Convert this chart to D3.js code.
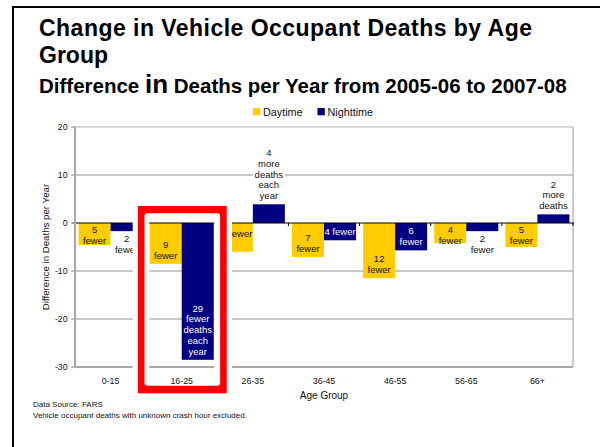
<!DOCTYPE html>
<html><head><meta charset="utf-8">
<script src="https://cdn.jsdelivr.net/npm/d3@7"></script>
<style>
html,body{margin:0;padding:0;background:#fff;}
svg{display:block;font-family:Arial,"Liberation Sans",sans-serif;}
</style></head>
<body>
<svg id="chart" width="600" height="447"></svg>
<script>
// ---- data ----
const categories = ["0-15","16-25","26-35","36-45","46-55","56-65","66+"];
const seriesNames = ["Daytime","Nighttime"];
const daytime   = [-4.6, -8.5, -6.0, -7.1, -11.5, -4.2, -5.0];
const nighttime = [-1.7, -28.5, 3.9, -3.6, -5.7, -1.7, 1.8];
const dayLabels   = ["5\nfewer","9\nfewer","6 fewer","7\nfewer","12\nfewer","4\nfewer","5\nfewer"];
const nightLabels = ["2\nfewer","29\nfewer\ndeaths\neach\nyear","4\nmore\ndeaths\neach\nyear","4 fewer","6\nfewer","2\nfewer","2\nmore\ndeaths"];
const dayPlacement   = ["end","end","base","end","end","end","end"];
const nightPlacement = ["out","end","out","end","end","out","out"];
const yTicks = [20,10,0,-10,-20,-30];
const highlighted = "16-25";
const titleText = ["Change in Vehicle Occupant Deaths by Age","Group"];
const subtitleParts = ["Difference ","in"," Deaths per Year from 2005-06 to 2007-08"];
const yAxisTitle = "Difference in Deaths per Year";
const xAxisTitle = "Age Group";
const notes = ["Data Source: FARS","Vehicle occupant deaths with unknown crash hour excluded."];

// ---- setup ----
const colors = {Daytime:"#FFCC00", Nighttime:"#000080"};
const svg = d3.select("#chart");
const L = 75, R = 573, T = 127, B = 367;
const x0 = d3.scaleBand().domain(categories).range([L,R]).paddingInner(0.1).paddingOuter(0.05);
const x1 = d3.scaleBand().domain(seriesNames).range([0,x0.bandwidth()]);
const y = d3.scaleLinear().domain([-30,20]).range([B,T]);

const rows = [];
categories.forEach((c,i)=>{
  rows.push({cat:c, s:"Daytime", v:daytime[i], label:dayLabels[i], place:dayPlacement[i]});
  rows.push({cat:c, s:"Nighttime", v:nighttime[i], label:nightLabels[i], place:nightPlacement[i]});
});

// frame
svg.append("path").attr("d","M13,447 L13,7 L600,7").attr("fill","none").attr("stroke","#000").attr("stroke-width",2);

// titles
svg.append("text").attr("x",39).attr("y",36).attr("font-size",23).attr("font-weight","bold")
  .attr("textLength",493).attr("lengthAdjust","spacing").text(titleText[0]);
svg.append("text").attr("x",39).attr("y",63).attr("font-size",23).attr("font-weight","bold").text(titleText[1]);
const st = svg.append("text").attr("x",39).attr("y",92.5).attr("font-weight","bold");
st.append("tspan").attr("font-size",20.5).text(subtitleParts[0]);
st.append("tspan").attr("font-size",26).text(subtitleParts[1]);
st.append("tspan").attr("font-size",20.5).text(subtitleParts[2]);

// legend
const legX = [253, 317.5];
seriesNames.forEach((s,i)=>{
  svg.append("rect").attr("x",legX[i]).attr("y",108).attr("width",7.3).attr("height",7.3).attr("fill",colors[s]);
  svg.append("text").attr("x",legX[i]+10).attr("y",115.5).attr("font-size",10.8).attr("fill","#111").text(s);
});

function drawGrid(g, x_from, x_to){
  yTicks.forEach(t=>{
    if(t===0) return;
    g.append("line").attr("x1",x_from).attr("x2",x_to).attr("y1",y(t)).attr("y2",y(t))
      .attr("stroke", t===-30 ? "#a8a8a8" : "#b4b4b4")
      .attr("stroke-width", t===-30 ? 2.2 : (t===20?1:1.3));
  });
}
function drawBars(g, data){
  g.selectAll(null).data(data).enter().append("rect")
    .attr("x",d=>x0(d.cat)+x1(d.s))
    .attr("width",x1.bandwidth())
    .attr("y",d=>y(Math.max(0,d.v)))
    .attr("height",d=>Math.abs(y(d.v)-y(0)))
    .attr("fill",d=>colors[d.s]);
}
function drawLabels(g, data){
  const lh = 10.8, fs = 9.5;
  data.forEach(d=>{
    const lines = d.label.split("\n");
    const h = lines.length*lh;
    const bx = x0(d.cat)+x1(d.s), bw = x1.bandwidth();
    const cx = bx + bw/2;
    let top, fill;
    if(d.place==="out"){
      top = d.v>=0 ? y(d.v)-3-h : y(d.v)+2;
      fill = "#111";
      g.append("rect").attr("x",bx).attr("width",bw).attr("y",top-1).attr("height",h+2).attr("fill","#fff");
    } else if(d.place==="base"){
      top = y(0)+5 - (d.v>=0 ? h+10 : 0);
      fill = d.s==="Nighttime" ? "#fff" : "#111";
    } else {
      top = y(d.v)-3-h;
      top = Math.max(top, y(0)+1);
      fill = d.s==="Nighttime" ? "#fff" : "#111";
    }
    const t = g.append("text").attr("font-size",fs).attr("fill",fill).attr("text-anchor","middle");
    lines.forEach((ln,k)=>{
      t.append("tspan").attr("x",cx).attr("y",top + lh*k + lh/2 + 3.3).text(ln);
    });
  });
}
function drawZero(g, x_from, x_to){
  g.append("line").attr("x1",x_from).attr("x2",x_to).attr("y1",y(0)).attr("y2",y(0))
    .attr("stroke","#000").attr("stroke-width",1.2);
}

const main = svg.append("g");
drawGrid(main, L, R);
main.append("line").attr("x1",R).attr("x2",R).attr("y1",T).attr("y2",B).attr("stroke","#a8a8a8").attr("stroke-width",1.2);
drawBars(main, rows);
drawLabels(main, rows);
drawZero(main, L-3, R+1);
d3.range(categories.length+1).forEach(i=>{
  const xb = L + i*x0.step();
  main.append("line").attr("x1",xb).attr("x2",xb).attr("y1",y(0)).attr("y2",y(0)+3).attr("stroke","#000").attr("stroke-width",1);
});
main.append("line").attr("x1",L).attr("x2",L).attr("y1",T).attr("y2",B).attr("stroke","#a8a8a8").attr("stroke-width",2.2);
yTicks.forEach(t=>{
  main.append("line").attr("x1",L-4).attr("x2",L).attr("y1",y(t)).attr("y2",y(t)).attr("stroke","#a8a8a8").attr("stroke-width",1.5);
  main.append("text").attr("x",67.5).attr("y",y(t)+3.2).attr("text-anchor","end").attr("font-size",8.7).attr("fill","#111").text(t);
});
categories.forEach(c=>{
  main.append("text").attr("x",x0(c)+x0.bandwidth()/2).attr("y",383.5).attr("text-anchor","middle")
    .attr("font-size",8.8).attr("fill","#111").text(c);
});
main.append("text").attr("transform","translate(48.5,"+((T+B)/2)+") rotate(-90)").attr("text-anchor","middle")
  .attr("font-size",9.7).attr("fill","#111").text(yAxisTitle);
main.append("text").attr("x",(L+R)/2).attr("y",398.5).attr("text-anchor","middle").attr("font-size",10).attr("fill","#111").text(xAxisTitle);
notes.forEach((n,i)=>{
  svg.append("text").attr("x",33).attr("y",407+i*11.3).attr("font-size",8).attr("fill","#111").text(n);
});

// ---- highlight inset for 16-25 ----
const hx = x0(highlighted), hw = x0.bandwidth();
const outer = {x:hx-11.8, y:206, w:hw+24.8, h:187.3};
svg.append("rect").attr("x",outer.x-5.2).attr("y",outer.y-5).attr("width",outer.w+10.4).attr("height",outer.h+10).attr("fill","#fff");
svg.append("rect").attr("x",outer.x).attr("y",outer.y).attr("width",outer.w).attr("height",outer.h).attr("fill","#ff0000");
const inner = {x:outer.x+6.6, y:outer.y+7.3, w:outer.w-13.2, h:outer.h-14.8};
svg.append("rect").attr("x",inner.x).attr("y",inner.y).attr("width",inner.w).attr("height",inner.h).attr("rx",3).attr("fill","#fff");
svg.append("defs").append("clipPath").attr("id","insetClip").append("rect")
  .attr("x",inner.x).attr("y",inner.y).attr("width",inner.w).attr("height",inner.h).attr("rx",3);
const inset = svg.append("g").attr("clip-path","url(#insetClip)");
const hrows = rows.filter(d=>d.cat===highlighted);
drawGrid(inset, hx-0.5, hx+hw+0.5);
drawBars(inset, hrows);
drawLabels(inset, hrows);
drawZero(inset, hx-0.5, hx+hw+0.5);
inset.append("text").attr("x",hx+hw/2).attr("y",383.5).attr("text-anchor","middle").attr("font-size",8.8).attr("fill","#111").text(highlighted);
</script>
</body></html>
